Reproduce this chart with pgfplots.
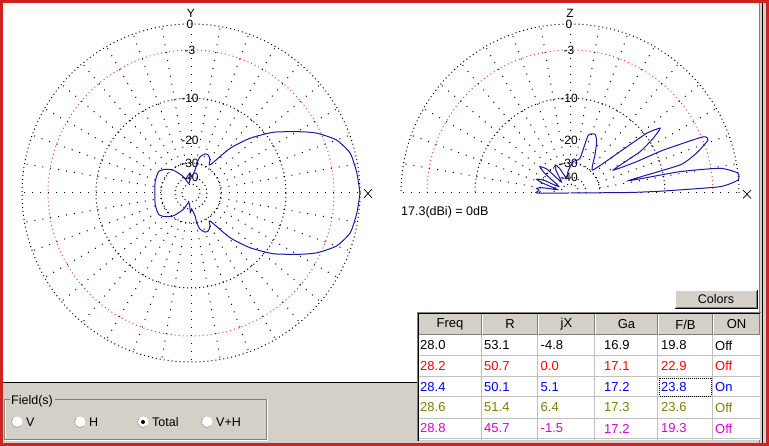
\documentclass[border=0pt]{standalone}
\usepackage{pgfplots}
\usepackage{pgfplotstable}
\pgfplotsset{compat=1.18}
\usepackage{fontspec}
\setmainfont{Liberation Sans}

\definecolor{winface}{RGB}{212,208,200}
\definecolor{winshadow}{RGB}{128,128,128}
\definecolor{framered}{RGB}{205,35,35}
\definecolor{patt}{RGB}{25,25,165}
\definecolor{gridred}{RGB}{225,70,70}
\definecolor{cellline}{RGB}{192,192,192}
\definecolor{olivetxt}{RGB}{128,128,0}
\definecolor{magtxt}{RGB}{220,0,220}

% horizontal pattern, upper half (angle deg, dB), mirrored for the lower half
\pgfplotstableread{
a     db
0     0
6.8   -0.2
14    -0.5
20    -1.5
25.4  -3.3
29.4  -5.2
36.4  -8.6
42.8  -12.7
48.9  -18.0
55.8  -27.6
60    -25.6
65.5  -24.0
70.3  -24.1
76    -25.9
79    -29.6
80    -34.0
87.5  -40.2
92    -37
97    -46
105   -48.5
115   -38.4
127.6 -30.3
137.7 -26.9
146.9 -25.2
162.6 -25.8
180   -26.5
}\azim

% vertical pattern (elevation deg, dB)
\pgfplotstableread{
a     db
0     -99
0.5   -17.8
1.2   -10.3
2.4   -2.05
4.4   -0.05
6.8   0
9.35  -1.8
11    -7.1
11.9  -17.9
14.3  -6.8
17.6  -4.1
21    -2.3
22.9  -2.7
24.7  -8.6
25.2  -14.3
28    -21.3
30.5  -12.6
33.3  -9.1
35.7  -7.2
37.9  -9.5
39.6  -16.4
45.4  -28.4
56.7  -22.5
62.5  -18.4
66.9  -16.7
72.5  -17.6
73.9  -26.5
84    -28.8
95    -35
103   -41.6
113   -31.5
118   -28.7
122   -32
128   -42.8
134   -28
138.8 -24.7
142   -28.5
150   -44
154   -30
157.6 -26.5
160   -30
165   -44
169   -31
172   -27.7
175   -29
178   -28
180   -28
180   -99
}\elev

\begin{document}
\begin{tikzpicture}
\begin{scope}[x=1pt,y=-1pt,
  ring/.style={line width=1pt,dash pattern=on 1pt off 3pt},
  spoke/.style={line width=1pt,dash pattern=on 1pt off 7pt},
  lbl/.style={font=\fontsize{12}{12}\selectfont,inner sep=0pt},
  gui/.style={font=\fontsize{12.5}{14}\selectfont,inner sep=0pt},
  cell/.style={font=\fontsize{13}{14}\selectfont,inner sep=0pt,anchor=west}]
  % window
  \fill[framered] (0,0) rectangle (769,446);
  \fill[white] (2.5,3) rectangle (760,383);
  \fill[winface] (2.5,383) rectangle (766,443);
  \fill[winface] (760,3) rectangle (766,443);
  \draw[black] (2.5,382.5) -- (418,382.5);
  \draw[winshadow] (759.5,3) -- (759.5,443);
  \draw[black] (762.5,3) -- (762.5,443);

  % left plot grid
  \begin{scope}[shift={(191,193)}]
    \foreach \r in {169,95,30,16,9} \draw[ring] (0,0) circle[radius=\r];
    \draw[ring,gridred] (0,0) circle[radius=143];
    \foreach \t in {0,10,...,350} \draw[spoke] (\t:30) -- (\t:169);
  \end{scope}
  \node[lbl] at (191,13.5) {Y};
  \foreach \r/\t in {169/0,143/-3,95/-10,53/-20,30/-30,16/-40}
    \node[lbl] at (190,193-\r) {\t};
  \draw[line width=0.7pt] (364,189) -- (372,198) (372,189) -- (364,198);

  % right plot grid
  \begin{scope}[shift={(570,193)}]
    \foreach \r in {169,95,30,16,9} \draw[ring] (\r,0) arc[start angle=0,end angle=-180,radius=\r];
    \draw[ring,gridred] (143,0) arc[start angle=0,end angle=-180,radius=143];
    \foreach \t in {0,10,...,180} \draw[spoke] (-\t:30) -- (-\t:169);
  \end{scope}
  \node[lbl] at (570,13.5) {Z};
  \foreach \r/\t in {169/0,143/-3,95/-10,53/-20,30/-30,16/-40}
    \node[lbl] at (569,193-\r) {\t};
  \draw[line width=0.7pt] (743,190) -- (751,198.5) (751,190) -- (743,198.5);
  \node[gui,anchor=west] at (401,212) {17.3(dBi) = 0dB};

  % Colors button
  \fill[winface] (675,290) rectangle (757,308);
  \draw[white] (675.5,308) -- (675.5,290.5) -- (757,290.5);
  \draw[winshadow] (676,307.5) -- (756.5,307.5) -- (756.5,291);
  \draw[black] (675,308.5) -- (757.5,308.5) -- (757.5,290);
  \node[gui] at (716,299.5) {Colors};

  % table
  \fill[white] (418,313) rectangle (760,440);
  \foreach \xa/\xb/\t in {418/482/Freq,482/538/R,538/595/jX,595/658/Ga,658/713/{F/B},713/760/ON}{
    \fill[winface] (\xa,313) rectangle (\xb,335);
    \draw[white] (\xa+0.5,334.5) -- (\xa+0.5,313.5) -- (\xb-0.5,313.5);
    \draw[winshadow] (\xa+0.5,334.5) -- (\xb-0.5,334.5) -- (\xb-0.5,313.5);
    \node[cell,anchor=center] at ({(\xa+\xb)/2},324.5) {\t};
  }
  \foreach \yy in {355.5,376.5,396.5,418.5,438.5} \draw[cellline] (418,\yy) -- (760,\yy);
  \foreach \xx in {481.5,537.5,594.5,657.5,712.5} \draw[cellline] (\xx,335) -- (\xx,440);
  \draw[winshadow] (417.5,441) -- (417.5,312.5) -- (761,312.5);
  \draw[black] (418.5,441) -- (418.5,313.5) -- (760,313.5);
  \foreach \c/\y/\a/\b/\d/\e/\f/\g in {
      black/345.5/28.0/53.1/-4.8/16.9/19.8/Off,
      red/366/28.2/50.7/0.0/17.1/22.9/Off,
      blue/387/28.4/50.1/5.1/17.2/23.8/On,
      olivetxt/407.5/28.6/51.4/6.4/17.3/23.6/Off,
      magtxt/428.5/28.8/45.7/-1.5/17.2/19.3/Off}{
    \node[cell,text=\c] at (420,\y) {\a};
    \node[cell,text=\c] at (484,\y) {\b};
    \node[cell,text=\c] at (540.5,\y) {\d};
    \node[cell,text=\c] at (604,\y) {\e};
    \node[cell,text=\c] at (661,\y) {\f};
    \node[cell,text=\c] at (715,\y) {\g};
  }
  \draw[dash pattern=on 1pt off 1pt] (659.5,378.5) rectangle (711.5,396);

  % Field(s) group
  \draw[winshadow] (4.5,399.5) rectangle (266.5,439.5);
  \draw[white] (5.5,400.5) -- (5.5,438.5) (5,440.5) -- (267.5,440.5) -- (267.5,399);
  \fill[winface] (10,395) rectangle (55,405);
  \node[gui,anchor=west] at (11,401.5) {Field(s)};
  \foreach \x/\t in {17/V,80/H,143/Total,207/V+H}{
    \fill[white] (\x,422) circle[radius=5.5];
    \draw[winshadow] ([shift={(\x,422)}]45:5.5) arc[start angle=45,end angle=225,radius=5.5];
    \node[gui,anchor=west] at (\x+9,422) {\t};
  }
  \fill[black] (143,422) circle[radius=2];
\end{scope}

% antenna patterns (ARRL log scale: r = 0.89^(-dB/2))
\begin{axis}[at={(191pt,-193pt)},anchor=center,x=169pt,y=169pt,
  xmin=-1.1,xmax=1.1,ymin=-1.1,ymax=1.1,hide axis,clip=false]
  \addplot[patt,line width=1pt,smooth,tension=0.35] table[
    x expr={0.89^(-0.5*(\thisrow{db}))*cos(\thisrow{a})},
    y expr={0.89^(-0.5*(\thisrow{db}))*sin(\thisrow{a})}] {\azim};
  \addplot[patt,line width=1pt,smooth,tension=0.35] table[
    x expr={0.89^(-0.5*(\thisrow{db}))*cos(\thisrow{a})},
    y expr={0.89^(-0.5*(\thisrow{db}))*sin(-\thisrow{a})}] {\azim};
\end{axis}

\begin{axis}[at={(570pt,-193pt)},anchor=center,x=169pt,y=169pt,
  xmin=-1.1,xmax=1.1,ymin=-1.1,ymax=1.1,hide axis,clip=false]
  \addplot[patt,line width=1pt,smooth,tension=0.3] table[
    x expr={0.89^(-0.5*(\thisrow{db}))*cos(\thisrow{a})},
    y expr={0.89^(-0.5*(\thisrow{db}))*sin(\thisrow{a})}] {\elev};
\end{axis}
\pgfresetboundingbox
\useasboundingbox (0,0) rectangle (769pt,-446pt);
\end{tikzpicture}
\end{document}
